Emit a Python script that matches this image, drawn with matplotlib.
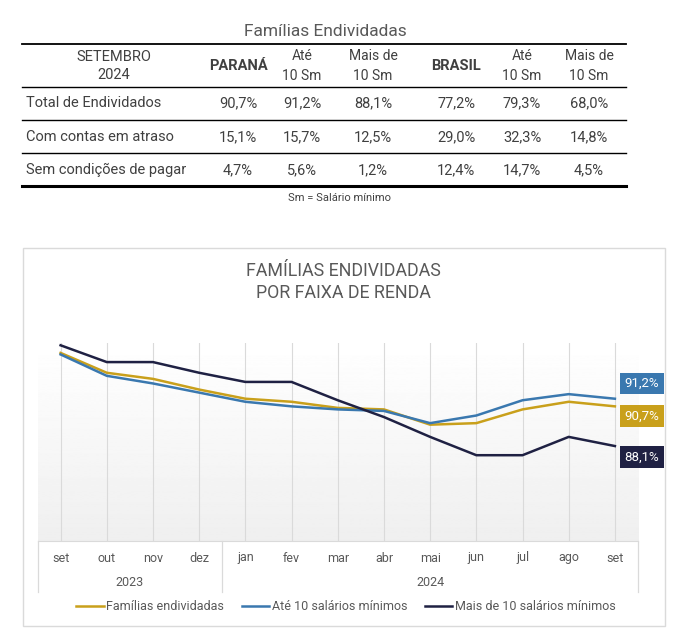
import numpy as np
import matplotlib as mpl
mpl.use('Agg')
import matplotlib.pyplot as plt
from matplotlib.lines import Line2D
from matplotlib.patches import Rectangle
import matplotlib.transforms as mtransforms

# tabela
table_title = 'Famílias Endividadas'
row_labels = ['Total de Endividados', 'Com contas em atraso', 'Sem condições de pagar']
col_headers = ['PARANÁ', 'Até\n10 Sm', 'Mais de\n10 Sm', 'BRASIL', 'Até\n10 Sm', 'Mais de\n10 Sm']
parana = [90.7, 15.1, 4.7]
parana_ate10 = [91.2, 15.7, 5.6]
parana_mais10 = [88.1, 12.5, 1.2]
brasil = [77.2, 29.0, 12.4]
brasil_ate10 = [79.3, 32.3, 14.7]
brasil_mais10 = [68.0, 14.8, 4.5]

# grafico
months = ['set', 'out', 'nov', 'dez', 'jan', 'fev', 'mar', 'abr', 'mai', 'jun', 'jul', 'ago', 'set']
years = ['2023', '2024']
familias = [94.2, 92.9, 92.5, 91.8, 91.2, 91.0, 90.6, 90.5, 89.5, 89.6, 90.5, 91.0, 90.7]
ate10 = [94.1, 92.7, 92.2, 91.6, 91.0, 90.7, 90.5, 90.4, 89.6, 90.1, 91.1, 91.5, 91.2]
mais10 = [94.7, 93.6, 93.6, 92.9, 92.3, 92.3, 91.1, 90.0, 88.7, 87.5, 87.5, 88.7, 88.1]
series_names = ['Famílias endividadas', 'Até 10 salários mínimos', 'Mais de 10 salários mínimos']

W, H = 689.0, 642.0
def fx(x):
    return x / W
def fy(y):
    return 1 - y / H

def pct(v):
    return ('%.1f' % v).replace('.', ',') + '%'

txt = '#404040'
grid = '#dadada'
colors = ['#C9A01B', '#3A78AF', '#1F2143']
tfont = ['Roboto', 'DejaVu Sans']
cfont = ['Roboto', 'DejaVu Sans']

fig = plt.figure(figsize=(6.89, 6.42), dpi=100)

# ---- tabela
fig.text(fx(325), fy(32), table_title, ha='center', va='center', fontsize=12.5,
         color='#595959', family=tfont)
for y, lw in [(44, 1.3), (87, 1.0), (120, 1.0), (153, 1.0), (186, 2.2)]:
    fig.add_artist(Line2D([fx(22), fx(626)], [fy(y), fy(y)], color='black', lw=lw))

fig.text(fx(114), fy(66), 'SETEMBRO\n2024', ha='center', va='center', fontsize=10.5,
         color=txt, family=tfont, linespacing=1.45)
col_x = [238, 302, 373, 456, 522, 589]
for i, h in enumerate(col_headers):
    bold = h in ('PARANÁ', 'BRASIL')
    fig.text(fx(col_x[i]), fy(66), h, ha='center', va='center',
             fontsize=10.5 if bold else 10, fontweight='bold' if bold else 'normal',
             color=txt, family=tfont, linespacing=1.5)

cols = [parana, parana_ate10, parana_mais10, brasil, brasil_ate10, brasil_mais10]
row_y = [103, 137, 170]
for r, lab in enumerate(row_labels):
    fig.text(fx(26), fy(row_y[r]), lab, ha='left', va='center', fontsize=10.5,
             color=txt, family=tfont)
    for c in range(len(cols)):
        fig.text(fx(col_x[c]), fy(row_y[r]), pct(cols[c][r]), ha='center', va='center',
                 fontsize=10.5, color=txt, family=tfont)
fig.text(fx(339), fy(198), 'Sm = Salário mínimo', ha='center', va='center', fontsize=8,
         color=txt, family=tfont)

# ---- grafico
fig.add_artist(Rectangle((fx(23), fy(626)), fx(665) - fx(23), fy(248) - fy(626),
                         transform=fig.transFigure, fill=False, edgecolor=grid, lw=1))
fig.text(fx(343), fy(271), 'FAMÍLIAS ENDIVIDADAS', ha='center', va='center',
         fontsize=12.8, color='#595959', family=cfont)
fig.text(fx(343), fy(293), 'POR FAIXA DE RENDA', ha='center', va='center',
         fontsize=12.8, color='#595959', family=cfont)

top, bot, left, right = 343, 540.7, 37.5, 638
ax = fig.add_axes([fx(left), fy(bot), fx(right) - fx(left), fy(top) - fy(bot)])
x = np.arange(len(months))
ax.set_xlim(-0.5, len(months) - 0.5)
ax.set_ylim(81.9, 94.85)

grad = np.linspace(1.0, 0.937, 200).reshape(-1, 1)
ax.imshow(grad, extent=[-0.5, len(months) - 0.5, 81.9, 94.85], aspect='auto',
          cmap='gray', vmin=0, vmax=1, zorder=0)
for xi in x:
    ax.axvline(xi, color=grid, lw=0.8, zorder=1)

for vals, c, name in zip([familias, ate10, mais10], colors, series_names):
    ax.plot(x, vals, color=c, lw=1.8, label=name, zorder=3)

# rotulos finais
for vals, c, dy in zip([familias, ate10, mais10], colors, [-7, 11, -8]):
    ax.annotate(pct(vals[-1]), (x[-1], vals[-1]), xytext=(19.5, dy), textcoords='offset points',
                ha='center', va='center', fontsize=9.5, color='white', family=cfont,
                bbox=dict(boxstyle='square,pad=0.32', fc=c, ec='none'), annotation_clip=False)

for s in ['left', 'right', 'top']:
    ax.spines[s].set_visible(False)
ax.spines['bottom'].set_color(grid)
ax.set_yticks([])
ax.set_xticks([])

trans = mtransforms.blended_transform_factory(ax.transData, ax.transAxes)
lo = -(591.7 - bot) / (bot - top)
for xs in [-0.5, 3.5, len(months) - 0.5]:
    ax.plot([xs, xs], [0, lo], color=grid, lw=0.9, transform=trans, clip_on=False)
for i, m in enumerate(months):
    ax.text(i, -(558 - bot) / (bot - top), m, transform=trans, ha='center', va='center',
            fontsize=9, color='#595959', family=cfont)
ax.text(1.5, -(582 - bot) / (bot - top), years[0], transform=trans, ha='center', va='center',
        fontsize=9, color='#595959', family=cfont)
ax.text(8, -(582 - bot) / (bot - top), years[1], transform=trans, ha='center', va='center',
        fontsize=9, color='#595959', family=cfont)

handles = [Line2D([], [], color=c, lw=1.8) for c in colors]
leg = fig.legend(handles, series_names, loc='center', bbox_to_anchor=(fx(346), fy(607)),
                 ncol=3, frameon=False, handlelength=2.2, handletextpad=0.2,
                 columnspacing=1.4, prop={'family': cfont, 'size': 9})
for t in leg.get_texts():
    t.set_color('#595959')

plt.savefig('out.png', dpi=100)
